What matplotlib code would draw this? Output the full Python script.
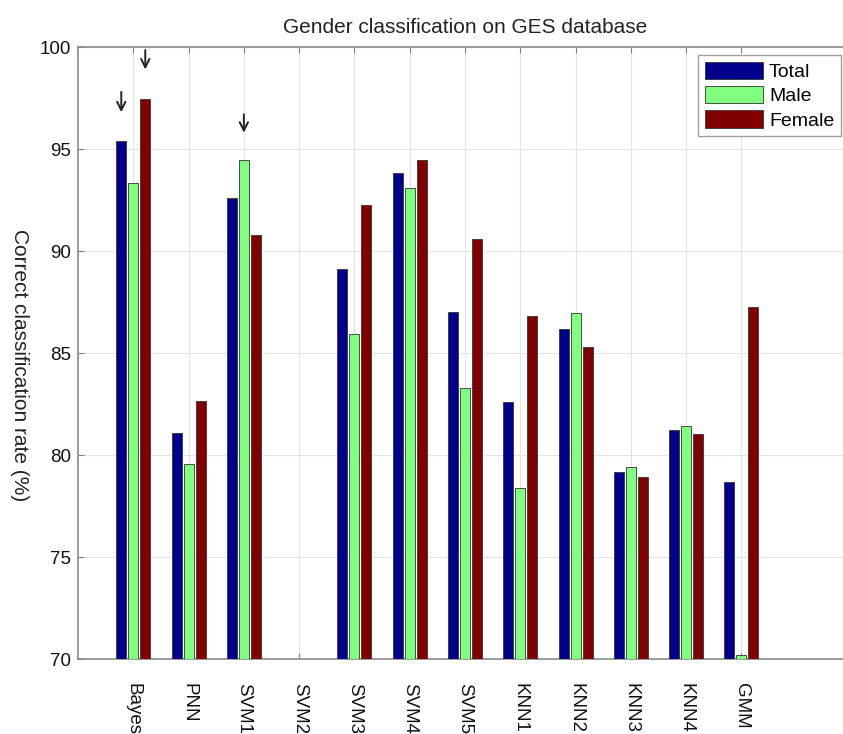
import numpy as np
import matplotlib
matplotlib.use("Agg")
import matplotlib.pyplot as plt

plt.rcParams['font.family'] = ['Liberation Sans', 'DejaVu Sans']

categories = ["Bayes", "PNN", "SVM1", "SVM2", "SVM3", "SVM4", "SVM5",
              "KNN1", "KNN2", "KNN3", "KNN4", "GMM"]
total = [95.4, 81.1, 92.6, np.nan, 89.1, 93.8, 87.0, 82.6, 86.2, 79.15, 81.25, 78.7]
male = [93.35, 79.55, 94.45, np.nan, 85.95, 93.1, 83.3, 78.4, 86.95, 79.4, 81.4, 70.2]
female = [97.45, 82.65, 90.8, np.nan, 92.25, 94.45, 90.6, 86.8, 85.3, 78.9, 81.05, 87.25]
series_names = ["Total", "Male", "Female"]
series_colors = ["#00008C", "#80FF80", "#800000"]
yticks = [70, 75, 80, 85, 90, 95, 100]

# annotation arrows: (group index, bar offset index, tail y, tip y)
arrows = [(0, 0, 97.8, 96.8), (0, 2, 99.85, 98.9), (2, 1, 96.7, 95.8)]

W, H = 843, 734
fig = plt.figure(figsize=(W / 100, H / 100), dpi=100)
ax = fig.add_axes([78 / W, (H - 659) / H, (852 - 78) / W, 612 / H])

x = np.arange(1, len(categories) + 1)
offs = [-0.217, 0.0, 0.217]
bw = 0.18
for vals, name, col, off in zip([total, male, female], series_names, series_colors, offs):
    ax.bar(x + off, np.array(vals) - 70, bottom=70, width=bw, color=col,
           edgecolor="#333333", linewidth=0.6, label=name, zorder=3)

for gi, oi, ytail, ytip in arrows:
    xx = x[gi] + offs[oi]
    ax.annotate("", xy=(xx, ytip), xytext=(xx, ytail),
                arrowprops=dict(arrowstyle="->", lw=1.4, color="#222222",
                                shrinkA=0, shrinkB=0, mutation_scale=15),
                zorder=5)

ax.set_xlim(0, 14)
ax.set_ylim(70, 100)
ax.set_yticks(yticks)
ax.set_xticks(x)
ax.set_xticklabels(categories, rotation=-90, va="top", ha="center", fontsize=13.5)
ax.tick_params(axis="x", direction="in", length=4, color="#808080", pad=17,
               top=True, labelcolor="#111111")
ax.tick_params(axis="y", direction="in", length=4, color="#808080", pad=5,
               right=True, labelsize=13.5, labelcolor="#111111")
ax.grid(True, color="#e4e4e4", linewidth=0.8, zorder=0)
ax.set_axisbelow(True)
for s in ax.spines.values():
    s.set_color("#8a8a8a")
    s.set_linewidth(1.2)

ax.set_title("Gender classification on GES database", fontsize=15,
             pad=10, color="#222222")
ax.set_ylabel("Correct classification rate (%)", rotation=-90, fontsize=15,
              va="center", ha="center", color="#222222")
ax.yaxis.set_label_coords((19 - 78) / 774, 0.48)

leg = ax.legend(loc="upper right", bbox_to_anchor=(841 / W, 1 - 55 / H),
                bbox_transform=fig.transFigure, borderaxespad=0,
                fontsize=14, frameon=True, fancybox=False, handlelength=3.0,
                handleheight=1.0, labelspacing=0.25, handletextpad=0.3,
                borderpad=0.35)
leg.get_frame().set_edgecolor("#8a8a8a")
leg.get_frame().set_linewidth(1.0)

fig.savefig("out.png", dpi=100)
